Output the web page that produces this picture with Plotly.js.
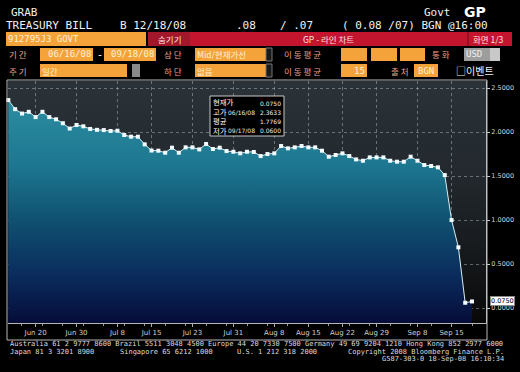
<!DOCTYPE html>
<html><head><meta charset="utf-8">
<script src="https://cdn.plot.ly/plotly-3.0.1.min.js"></script>
<style>
html,body{margin:0;padding:0;background:#000;width:520px;height:372px;overflow:hidden}
#wrap{position:relative;width:520px;height:372px}
#bg{position:absolute;left:8px;top:81px;width:478px;height:242px;background:linear-gradient(to bottom,#2b3338 0%,#22282d 40%,#16191c 72%,#080808 100%)}
#chart{position:absolute;left:0;top:0;width:520px;height:372px}
</style></head><body>
<div id="wrap"><div id="bg"></div><div id="chart"></div></div>
<script>
// ---- data ----
const dates = [
 '2008-06-16','2008-06-17','2008-06-18','2008-06-19','2008-06-20','2008-06-23','2008-06-24','2008-06-25','2008-06-26','2008-06-27','2008-06-30',
 '2008-07-01','2008-07-02','2008-07-03','2008-07-04','2008-07-07','2008-07-08','2008-07-09','2008-07-10','2008-07-11','2008-07-14','2008-07-15',
 '2008-07-16','2008-07-17','2008-07-18','2008-07-21','2008-07-22','2008-07-23','2008-07-24','2008-07-25','2008-07-28','2008-07-29','2008-07-30','2008-07-31',
 '2008-08-01','2008-08-04','2008-08-05','2008-08-06','2008-08-07','2008-08-08','2008-08-11','2008-08-12','2008-08-13','2008-08-14','2008-08-15',
 '2008-08-18','2008-08-19','2008-08-20','2008-08-21','2008-08-22','2008-08-25','2008-08-26','2008-08-27','2008-08-28','2008-08-29',
 '2008-09-01','2008-09-02','2008-09-03','2008-09-04','2008-09-05','2008-09-08','2008-09-09','2008-09-10','2008-09-11','2008-09-12',
 '2008-09-15','2008-09-16','2008-09-17','2008-09-18'];
const yields = [
 2.3633,2.26,2.21,2.23,2.17,2.23,2.17,2.145,2.10,2.04,2.08,
 2.065,2.035,2.025,2.022,2.012,2.015,1.966,1.947,1.947,1.86,1.79,
 1.788,1.765,1.822,1.765,1.826,1.826,1.803,1.864,1.807,1.822,1.784,1.776,
 1.758,1.776,1.773,1.727,1.75,1.758,1.841,1.815,1.826,1.841,1.826,
 1.826,1.788,1.72,1.739,1.758,1.727,1.689,1.674,1.712,1.712,
 1.712,1.674,1.663,1.663,1.72,1.674,1.625,1.614,1.599,1.511,
 1.00,0.69,0.06,0.075];
const tickDates = ['2008-06-20','2008-06-30','2008-07-08','2008-07-15','2008-07-23','2008-07-31','2008-08-08','2008-08-15','2008-08-22','2008-08-29','2008-09-08','2008-09-15'];
const tickLabels = ['Jun 20','Jun 30','Jul 8','Jul 15','Jul 23','Jul 31','Aug 8','Aug 15','Aug 22','Aug 29','Sep 8','Sep 15'];
const yTicks = [0,0.5,1.0,1.5,2.0,2.5];
const statLabels = ['현재가','고가','평균','저가'];
const statDates = ['','06/16/08','','09/17/08'];
const statValues = ['0.0750','2.3633','1.7769','0.0600'];
const lastLabel = '0.0750';
const lastValue = 0.075;

// ---- layout helpers ----
const Y_MIN = -0.17, Y_MAX = 2.58;
const PL = 8, PR = 486, PT = 81, PB = 323;
const X = px => (px - PL) / (PR - PL);
const Y = py => (PB - py) / (PB - PT);
const MONO = '"DejaVu Sans Mono", monospace';
const KR = '"Noto Sans CJK KR", sans-serif';
const SANS = '"DejaVu Sans", sans-serif';
const ORANGE = '#f4a33a', LBL = '#f0a088', CREAM = '#fff0d2';

const shapes = [];
const ann = [];
function rect(x0, y0, x1, y1, fill, lc) {
  shapes.push({type:'rect', xref:'paper', yref:'paper', x0:X(x0), x1:X(x1), y0:Y(y1), y1:Y(y0),
    fillcolor:fill, line:{width: lc ? 1 : 0, color: lc || fill}, layer:'above'});
}
function line(x0, y0, x1, y1, c) {
  shapes.push({type:'line', xref:'paper', yref:'paper', x0:X(x0), x1:X(x1), y0:Y(y0), y1:Y(y1),
    line:{width:1, color:c}, layer:'above'});
}
function txt(t, x, y, size, color, fam, anchor, align) {
  ann.push({xref:'paper', yref:'paper', x:X(x), y:Y(y), text:t, showarrow:false,
    xanchor: anchor || 'left', yanchor:'middle', borderpad:0, align: align || 'left',
    font:{family: fam || MONO, size:size, color:color}});
}

// header lines
txt('GRAB', 10, 12.5, 11, '#f2f2f2');
txt('Govt', 423, 12.5, 11, '#f2f2f2');
txt('<b>GP</b>', 463, 12, 14, '#ffffff', SANS);
txt('TREASURY BILL', 5, 25, 11, '#f2f2f2');
txt('B 12/18/08', 119, 25, 11, '#f2f2f2');
txt('.08', 235, 25, 11, '#f2f2f2');
txt('/ .07', 279, 25, 11, '#f2f2f2');
txt('( 0.08 /07) BGN @16:00', 341, 25, 11, '#f2f2f2');

// row 3
rect(6, 32, 146, 46, ORANGE);
txt('912795J3 GOVT', 7, 39, 9, CREAM);
rect(148, 32, 190, 46, '#a3172b');
txt('숨기기', 169, 39, 8.5, '#ffe0e0', KR, 'center');
rect(190, 32, 512, 46, '#c4152f');
line(468, 32, 468, 46, '#6a0a18');
txt('GP - 라인 차트', 328, 39, 8.5, '#ffe0e0', KR, 'center');
txt('화면 1/3', 472, 39, 8.5, '#ffe0e0', KR);

// row 4
txt('기 간', 8, 54.5, 8.5, LBL, KR);
rect(40, 48, 93, 61, ORANGE);
txt('06/16/08', 92, 54.5, 9, CREAM, MONO, 'right');
txt('-', 96, 54.5, 10, '#ffffff');
rect(104, 48, 156, 61, ORANGE);
txt('09/18/08', 155, 54.5, 9, CREAM, MONO, 'right');
txt('상 단', 163, 54.5, 8.5, LBL, KR);
rect(195, 48, 266, 61, ORANGE);
txt('Mid/현재가선', 196, 54.5, 8.5, CREAM, KR);
rect(266, 48, 272, 61, '#1a1a1a', '#777');
txt('이 동 평 균', 283, 54.5, 8.5, LBL, KR);
rect(341, 48, 367, 61, ORANGE);
rect(371, 48, 397, 61, ORANGE);
rect(400, 48, 425, 61, ORANGE);
txt('통 화', 431, 54.5, 8.5, LBL, KR);
rect(464, 48, 490, 61, '#9d9d9d');
rect(490, 48, 500, 61, '#c8c8c8');
txt('USD', 465, 54.5, 9, '#f0f0f0');

// row 5
txt('주 기', 8, 70.5, 8.5, LBL, KR);
rect(40, 64, 127, 77, ORANGE);
txt('일간', 41, 70.5, 8.5, CREAM, KR);
rect(127, 64, 131, 77, '#050505');
rect(132, 64, 140, 77, '#8a8a8a');
txt('하 단', 163, 70.5, 8.5, LBL, KR);
rect(195, 64, 266, 77, ORANGE);
txt('없음', 196, 70.5, 8.5, CREAM, KR);
rect(266, 64, 272, 77, '#1a1a1a', '#777');
txt('이 동 평 균', 283, 70.5, 8.5, LBL, KR);
rect(341, 64, 367, 77, ORANGE);
txt('15', 366, 70.5, 9, CREAM, MONO, 'right');
txt('출 처', 390, 70.5, 8.5, LBL, KR);
rect(414, 64, 438, 77, ORANGE);
txt('BGN', 426, 70.5, 9, CREAM, MONO, 'center');
txt('□이벤트', 455, 70.5, 10, '#f4f4f4', KR);

// chart frame
line(7, 80, 487, 80, '#b8b8b8');
line(7, 80, 7, 340, '#b8b8b8');
line(7, 340, 487, 340, '#b8b8b8');
line(487, 80, 487, 340, '#b8b8b8');

// statistics box
rect(210, 96, 284, 136, '#000000', '#c8c8c8');
txt(statLabels.join('<br>'), 212, 115.8, 7.4, '#ffffff', KR, 'left', 'left');
const valY = [103.5, 112.5, 121.5, 130.5];
statValues.forEach((s, i) => {
  if (statDates[i]) txt(statDates[i], 256, valY[i] - 0.5, 6, '#e8e8e8', SANS, 'right');
  txt(s, 282, valY[i], 6, '#f0f0f0', SANS, 'right');
});

// last value marker on right axis
ann.push({xref:'paper', yref:'y', x:X(490), y:lastValue, text:lastLabel, showarrow:false,
  xanchor:'left', yanchor:'middle', bgcolor:'#ffffff', bordercolor:'#888', borderwidth:1, borderpad:0,
  font:{family:SANS, size:6.5, color:'#000'}});

// footer
txt('Australia 61 2 9777 8600 Brazil 5511 3048 4500 Europe 44 20 7330 7500 Germany 49 69 9204 1210 Hong Kong 852 2977 6000', 9, 343.5, 7, '#dcdcdc');
txt('Japan 81 3 3201 8900', 9, 351.5, 7, '#dcdcdc');
txt('Singapore 65 6212 1000', 119, 351.5, 7, '#dcdcdc');
txt('U.S. 1 212 318 2000', 236, 351.5, 7, '#dcdcdc');
txt('Copyright 2008 Bloomberg Finance L.P.', 505, 351.5, 7, '#dcdcdc', MONO, 'right');
txt('G587-303-0 18-Sep-08 16:10:34', 505, 358.5, 7, '#dcdcdc', MONO, 'right');

const minorDates = dates.filter((d, i) => i % 3 === 2 && tickDates.indexOf(d) < 0);

const traces = [
  {x: dates, y: dates.map(() => Y_MIN), mode:'lines', line:{width:0, color:'rgba(0,0,0,0)'},
   hoverinfo:'skip', showlegend:false},
  {x: dates, y: yields, mode:'lines+markers', fill:'tonexty',
   fillgradient:{type:'vertical', start:Y_MIN, stop:2.4,
     colorscale:[[0,'#050c38'],[0.2,'#0a2a5c'],[0.45,'#0f5070'],[0.7,'#1d7790'],[1,'#2c8ea2']]},
   line:{color:'#d8eef5', width:1},
   marker:{symbol:'square', size:4, color:'#f2fbff', line:{width:0}},
   cliponaxis:false, showlegend:false, hoverinfo:'x+y'}
];

const layout = {
  width:520, height:372, autosize:false,
  margin:{l:PL, r:520-PR, t:PT, b:372-PB, pad:0},
  paper_bgcolor:'rgba(0,0,0,0)', plot_bgcolor:'rgba(0,0,0,0)',
  showlegend:false,
  xaxis:{type:'category', range:[-0.05, 70.05], tickvals:tickDates, ticktext:tickLabels,
    showgrid:true, gridcolor:'rgba(185,200,210,0.45)', griddash:'dot', gridwidth:1,
    ticks:'outside', ticklen:3, tickcolor:'#aaaaaa', showline:true, linecolor:'#b8b8b8', linewidth:1,
    tickfont:{family:SANS, size:7, color:'#cfcfcf'}, zeroline:false, fixedrange:true,
    minor:{tickvals:minorDates, ticks:'outside', ticklen:2, tickcolor:'#999', showgrid:false}},
  yaxis:{side:'right', range:[Y_MIN, Y_MAX], tickvals:yTicks, tickformat:'.4f',
    showgrid:true, gridcolor:'rgba(185,200,210,0.45)', griddash:'dot', gridwidth:1,
    ticks:'outside', ticklen:3, tickcolor:'#cccccc', showline:true, linecolor:'#c8c8c8', linewidth:1,
    tickfont:{family:SANS, size:6.5, color:'#d4d4d4'}, zeroline:false, fixedrange:true},
  shapes:shapes, annotations:ann
};

Plotly.newPlot('chart', traces, layout, {displayModeBar:false, staticPlot:true});
</script></body></html>
